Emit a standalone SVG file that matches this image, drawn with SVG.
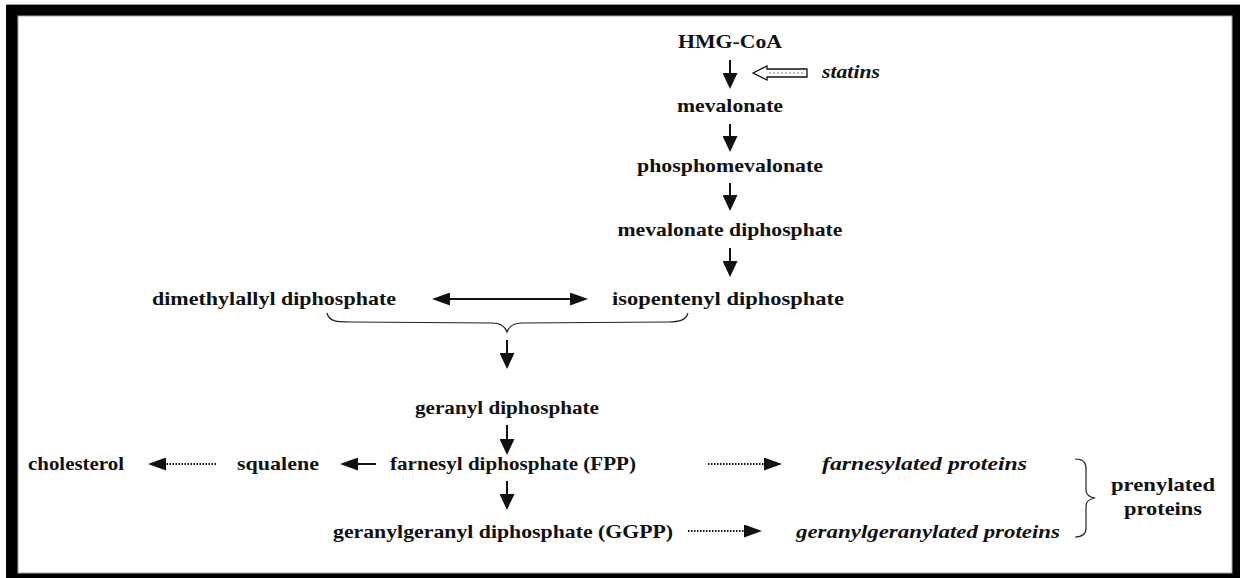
<svg xmlns="http://www.w3.org/2000/svg" width="1240" height="578" viewBox="0 0 1240 578">
<defs>
<style>
.t{font-family:"Liberation Serif","Times New Roman",serif;font-weight:bold;font-size:19px;fill:#111}
.i{font-style:italic}
.c{stroke:#111;stroke-width:2;fill:none}
.d{stroke:#111;stroke-width:2;fill:none;stroke-dasharray:1.5 1.5}
.b{stroke:#222;stroke-width:1.2;fill:none}
</style>
<marker id="ah" markerUnits="userSpaceOnUse" markerWidth="16" markerHeight="15" viewBox="0 0 16 15" refX="6" refY="7.5" orient="auto-start-reverse">
<path d="M0,0 L16,7.5 L0,15 z" fill="#111"/>
</marker>
<marker id="ahs" markerUnits="userSpaceOnUse" markerWidth="18" markerHeight="13" viewBox="0 0 18 13" refX="8" refY="6.5" orient="auto-start-reverse">
<path d="M0,0 L18,6.5 L0,13 z" fill="#111"/>
</marker>
</defs>
<rect x="0" y="0" width="1240" height="578" fill="#fff"/>
<line x1="6" y1="4.5" x2="1240" y2="4.5" stroke="#999" stroke-width="1"/>
<rect x="6" y="5" width="1234" height="573" fill="#000"/>
<rect x="18" y="16" width="1214" height="557" fill="#fff" stroke="#aaa" stroke-width="1"/>

<g id="hmgcoa"><text class="t" x="730" y="48" text-anchor="middle" textLength="104" lengthAdjust="spacingAndGlyphs">HMG-CoA</text></g>
<g id="statins"><text class="t i" x="822" y="78" textLength="58" lengthAdjust="spacingAndGlyphs">statins</text>
<polygon points="753,73 767,66 767,69 807,69 807,77 767,77 767,80" fill="#fff" stroke="#111" stroke-width="1.3"/>
<line x1="769" y1="73" x2="805" y2="73" stroke="#aaa" stroke-width="1.5" stroke-dasharray="2 2"/></g>
<g id="mevalonate"><text class="t" x="730" y="112" text-anchor="middle" textLength="106" lengthAdjust="spacingAndGlyphs">mevalonate</text></g>
<g id="phosphomevalonate"><text class="t" x="730" y="172" text-anchor="middle" textLength="186" lengthAdjust="spacingAndGlyphs">phosphomevalonate</text></g>
<g id="mevalonate-diphosphate"><text class="t" x="730" y="236" text-anchor="middle" textLength="225" lengthAdjust="spacingAndGlyphs">mevalonate diphosphate</text></g>
<g id="isopentenyl-diphosphate"><text class="t" x="612" y="305" textLength="232" lengthAdjust="spacingAndGlyphs">isopentenyl diphosphate</text></g>
<g id="dimethylallyl-diphosphate"><text class="t" x="152" y="305" textLength="244" lengthAdjust="spacingAndGlyphs">dimethylallyl diphosphate</text></g>
<g id="geranyl-diphosphate"><text class="t" x="507" y="414" text-anchor="middle" textLength="184" lengthAdjust="spacingAndGlyphs">geranyl diphosphate</text></g>
<g id="cholesterol"><text class="t" x="28" y="470" textLength="96" lengthAdjust="spacingAndGlyphs">cholesterol</text></g>
<g id="squalene"><text class="t" x="237" y="470" textLength="82" lengthAdjust="spacingAndGlyphs">squalene</text></g>
<g id="fpp"><text class="t" x="390" y="470" textLength="246" lengthAdjust="spacingAndGlyphs">farnesyl diphosphate (FPP)</text></g>
<g id="ggpp"><text class="t" x="333" y="538" textLength="340" lengthAdjust="spacingAndGlyphs">geranylgeranyl diphosphate (GGPP)</text></g>
<g id="farnesylated-proteins"><text class="t i" x="822" y="470" textLength="205" lengthAdjust="spacingAndGlyphs">farnesylated proteins</text></g>
<g id="geranylgeranylated-proteins"><text class="t i" x="796" y="538" textLength="264" lengthAdjust="spacingAndGlyphs">geranylgeranylated proteins</text></g>
<g id="prenylated-proteins"><text class="t" x="1163" y="491" text-anchor="middle" textLength="104" lengthAdjust="spacingAndGlyphs">prenylated</text>
<text class="t" x="1163" y="515" text-anchor="middle" textLength="78" lengthAdjust="spacingAndGlyphs">proteins</text></g>

<g id="connectors">
<line class="c" x1="730" y1="60" x2="730" y2="79" marker-end="url(#ah)"/>
<line class="c" x1="730" y1="124" x2="730" y2="142" marker-end="url(#ah)"/>
<line class="c" x1="730" y1="183" x2="730" y2="201" marker-end="url(#ah)"/>
<line class="c" x1="730" y1="248" x2="730" y2="267" marker-end="url(#ah)"/>
<line class="c" x1="442" y1="299" x2="578" y2="299" marker-start="url(#ahs)" marker-end="url(#ahs)"/>
<path class="b" d="M327,313 C329,322 338,322 350,322 L492,323 C500,323 505,326 507,332 C509,326 514,323 522,323 L668,322 C680,322 686,320 688,313"/>
<line class="c" x1="507" y1="340" x2="507" y2="359" marker-end="url(#ah)"/>
<line class="c" x1="507" y1="425" x2="507" y2="445" marker-end="url(#ah)"/>
<line class="c" x1="507" y1="481" x2="507" y2="500" marker-end="url(#ah)"/>
<line class="c" x1="376" y1="464" x2="350" y2="464" marker-end="url(#ahs)"/>
<line class="d" x1="216" y1="464" x2="158" y2="464" marker-end="url(#ahs)"/>
<line class="d" x1="708" y1="464" x2="772" y2="464" marker-end="url(#ahs)"/>
<line class="d" x1="688" y1="531" x2="752" y2="531" marker-end="url(#ahs)"/>
<path class="b" d="M1075,459 C1083,459 1086,462 1086,468 L1086,490 C1086,495 1089,497 1095,498 C1089,499 1086,501 1086,506 L1086,528 C1086,534 1083,537 1075,537"/>
</g>
</svg>
